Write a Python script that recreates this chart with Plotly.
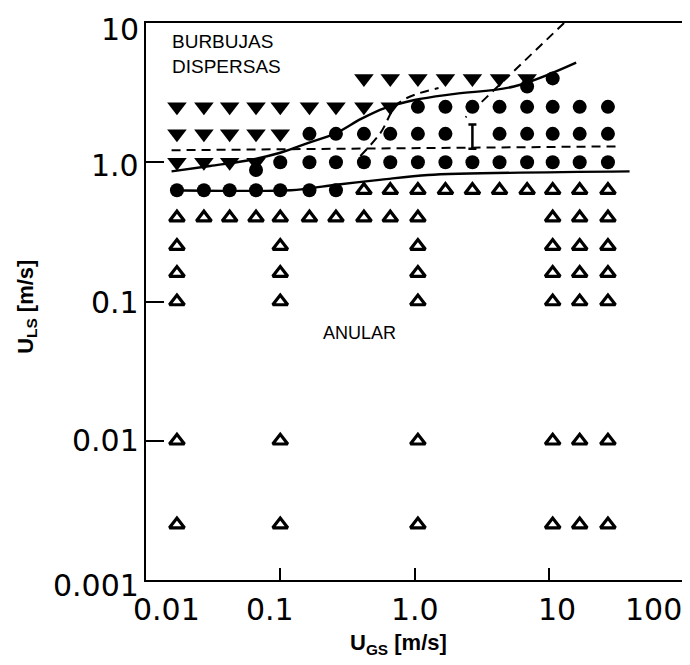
import math
import plotly.graph_objects as go

# ---------------- data ----------------
# filled inverted triangles (dispersed bubble observations)
disp_x = [0.42, 0.66, 1.06, 1.7, 2.7, 4.3, 6.9,
          0.017, 0.027, 0.042, 0.066, 0.1, 0.165, 0.26, 0.42, 0.66,
          0.017, 0.027, 0.042, 0.066, 0.1,
          0.017, 0.027, 0.042, 0.066]
disp_y = [4.0, 4.0, 4.0, 4.0, 4.0, 4.0, 4.0,
          2.5, 2.5, 2.5, 2.5, 2.5, 2.5, 2.5, 2.5, 2.5,
          1.6, 1.6, 1.6, 1.6, 1.6,
          1.0, 1.0, 1.0, 1.0]

# filled circles
bub_x = [6.9, 10.7,
         1.06, 1.7, 2.7, 4.3, 6.9, 10.7, 17, 27.6,
         0.165, 0.26, 0.42, 0.66, 1.06, 1.7, 4.3, 6.9, 10.7, 17, 27.6,
         0.066, 0.1, 0.165, 0.26, 0.42, 0.66, 1.06, 1.7, 2.7, 4.3, 6.9, 10.7, 17, 27.6,
         0.017, 0.027, 0.042, 0.066, 0.1, 0.165, 0.26]
bub_y = [3.5, 4.0,
         2.5, 2.5, 2.5, 2.5, 2.5, 2.5, 2.5, 2.5,
         1.6, 1.6, 1.6, 1.6, 1.6, 1.6, 1.6, 1.6, 1.6, 1.6, 1.6,
         0.88, 1.0, 1.0, 1.0, 1.0, 1.0, 1.0, 1.0, 1.0, 1.0, 1.0, 1.0, 1.0, 1.0,
         0.63, 0.63, 0.63, 0.63, 0.63, 0.63, 0.63]

# open triangles (annular observations)
ann_x = [0.42, 0.66, 1.06, 1.7, 2.7, 4.3, 6.9, 10.7, 17, 27.6,
         0.017, 0.027, 0.042, 0.066, 0.1, 0.165, 0.26, 0.42, 0.66, 1.06, 10.7, 17, 27.6,
         0.017, 0.1, 1.06, 10.7, 17, 27.6,
         0.017, 0.1, 1.06, 10.7, 17, 27.6,
         0.017, 0.1, 1.06, 10.7, 17, 27.6,
         0.017, 0.1, 1.06, 10.7, 17, 27.6,
         0.017, 0.1, 1.06, 10.7, 17, 27.6]
ann_y = [0.63, 0.63, 0.63, 0.63, 0.63, 0.63, 0.63, 0.63, 0.63, 0.63,
         0.4, 0.4, 0.4, 0.4, 0.4, 0.4, 0.4, 0.4, 0.4, 0.4, 0.4, 0.4, 0.4,
         0.25, 0.25, 0.25, 0.25, 0.25, 0.25,
         0.16, 0.16, 0.16, 0.16, 0.16, 0.16,
         0.1, 0.1, 0.1, 0.1, 0.1, 0.1,
         0.01, 0.01, 0.01, 0.01, 0.01, 0.01,
         0.0025, 0.0025, 0.0025, 0.0025, 0.0025, 0.0025]

# range-bar observation
bar_x = [2.7]
bar_y = [1.55]
bar_up = [0.32]
bar_down = [0.30]

# transition boundaries
upper_x = [0.0155, 0.03, 0.057, 0.1, 0.16, 0.26, 0.4, 0.6, 1.0, 2.0, 5.5, 16]
upper_y = [0.86, 0.94, 1.03, 1.17, 1.37, 1.62, 2.05, 2.45, 2.8, 3.1, 3.5, 5.2]
lower_x = [0.0155, 0.12, 0.26, 0.57, 1.26, 40]
lower_y = [0.63, 0.63, 0.69, 0.75, 0.81, 0.86]
hdash_x = [0.0155, 33]
hdash_y = [1.22, 1.30]
steep_x = [13, 2.4]
steep_y = [10, 2.1]
bdash_x = [0.395, 0.557, 0.76, 1.51]
bdash_y = [1.11, 1.62, 2.66, 3.41]

x_tick_vals = [0.01, 0.1, 1, 10, 100]
x_tick_text = ["0.01", "0.1", "1.0", "10", "100"]
y_tick_vals = [0.001, 0.01, 0.1, 1, 10]
y_tick_text = ["0.001", "0.01", "0.1", "1.0", "10"]

# ---------------- figure ----------------
fig = go.Figure()
line_style = dict(color="black", width=2.4)
dash_style = dict(color="black", width=2, dash="9px,6px")

fig.add_trace(go.Scatter(x=upper_x, y=upper_y, mode="lines",
                         line=dict(**line_style, shape="spline", smoothing=1.0)))
fig.add_trace(go.Scatter(x=lower_x, y=lower_y, mode="lines",
                         line=dict(**line_style, shape="spline", smoothing=0.8)))
fig.add_trace(go.Scatter(x=hdash_x, y=hdash_y, mode="lines", line=dash_style))
fig.add_trace(go.Scatter(x=steep_x, y=steep_y, mode="lines", line=dash_style))
fig.add_trace(go.Scatter(x=bdash_x, y=bdash_y, mode="lines",
                         line=dict(**dash_style, shape="spline")))

fig.add_trace(go.Scatter(x=disp_x, y=disp_y, mode="markers",
                         marker=dict(symbol="triangle-down", size=17, color="black",
                                     line=dict(width=0))))
fig.add_trace(go.Scatter(x=bub_x, y=bub_y, mode="markers",
                         marker=dict(symbol="circle", size=14, color="black",
                                     line=dict(width=0))))
fig.add_trace(go.Scatter(x=ann_x, y=ann_y, mode="markers",
                         marker=dict(symbol="triangle-up-open", size=13, color="black",
                                     line=dict(width=3.2, color="black"))))
fig.add_trace(go.Scatter(x=bar_x, y=bar_y, mode="markers",
                         marker=dict(size=1, color="black"),
                         error_y=dict(type="data", symmetric=False, array=bar_up,
                                      arrayminus=bar_down, color="black",
                                      thickness=2.5, width=4)))

tick_font = dict(family="DejaVu Sans", size=30, color="black")
x_label_shift = [20, -10, 0, 8, -30]
y_label_shift = [-5, 0, -1, -3, -6]
annotations = []
for v, t, s in zip(x_tick_vals, x_tick_text, x_label_shift):
    annotations.append(dict(x=math.log10(v), y=0, xref="x", yref="paper",
                            text=t, showarrow=False, xanchor="center", yanchor="top",
                            xshift=s, yshift=-10, font=tick_font))
for v, t, s in zip(y_tick_vals, y_tick_text, y_label_shift):
    annotations.append(dict(x=0, y=math.log10(v), xref="paper", yref="y",
                            text=t, showarrow=False, xanchor="right", yanchor="middle",
                            xshift=-5, yshift=s, font=tick_font))

annotations += [
    dict(x=0.045, y=0.966, xref="paper", yref="paper", xanchor="left", yanchor="middle",
         text="BURBUJAS", showarrow=False,
         font=dict(family="Liberation Sans", size=19, color="black")),
    dict(x=0.045, y=0.922, xref="paper", yref="paper", xanchor="left", yanchor="middle",
         text="DISPERSAS", showarrow=False,
         font=dict(family="Liberation Sans", size=19, color="black")),
    dict(x=0.398, y=0.443, xref="paper", yref="paper", xanchor="center", yanchor="middle",
         text="ANULAR", showarrow=False,
         font=dict(family="Liberation Sans", size=18, color="black")),
    dict(x=0.47, y=-0.115, xref="paper", yref="paper", xanchor="center", yanchor="middle",
         text="<b>U<sub>GS</sub> [m/s]</b>", showarrow=False,
         font=dict(family="Liberation Sans", size=22, color="black")),
    dict(x=-0.222, y=0.49, xref="paper", yref="paper", xanchor="center", yanchor="middle",
         text="<b>U<sub>LS</sub> [m/s]</b>", showarrow=False, textangle=-90,
         font=dict(family="Liberation Sans", size=22, color="black")),
]

fig.update_layout(
    width=690, height=665,
    margin=dict(l=138, r=15, t=15, b=93),
    paper_bgcolor="white", plot_bgcolor="white",
    showlegend=False,
    annotations=annotations,
    xaxis=dict(type="log", range=[-2, 2], showgrid=False, zeroline=False,
               showline=True, linecolor="black", linewidth=2, mirror=True,
               ticks="inside", ticklen=12, tickwidth=2, tickcolor="black",
               tickvals=x_tick_vals[1:4], showticklabels=False),
    yaxis=dict(type="log", range=[-3, 1], showgrid=False, zeroline=False,
               showline=True, linecolor="black", linewidth=2, mirror=True,
               ticks="inside", ticklen=18, tickwidth=2, tickcolor="black",
               tickvals=y_tick_vals[1:4], showticklabels=False),
)

fig.write_html("out.html")
